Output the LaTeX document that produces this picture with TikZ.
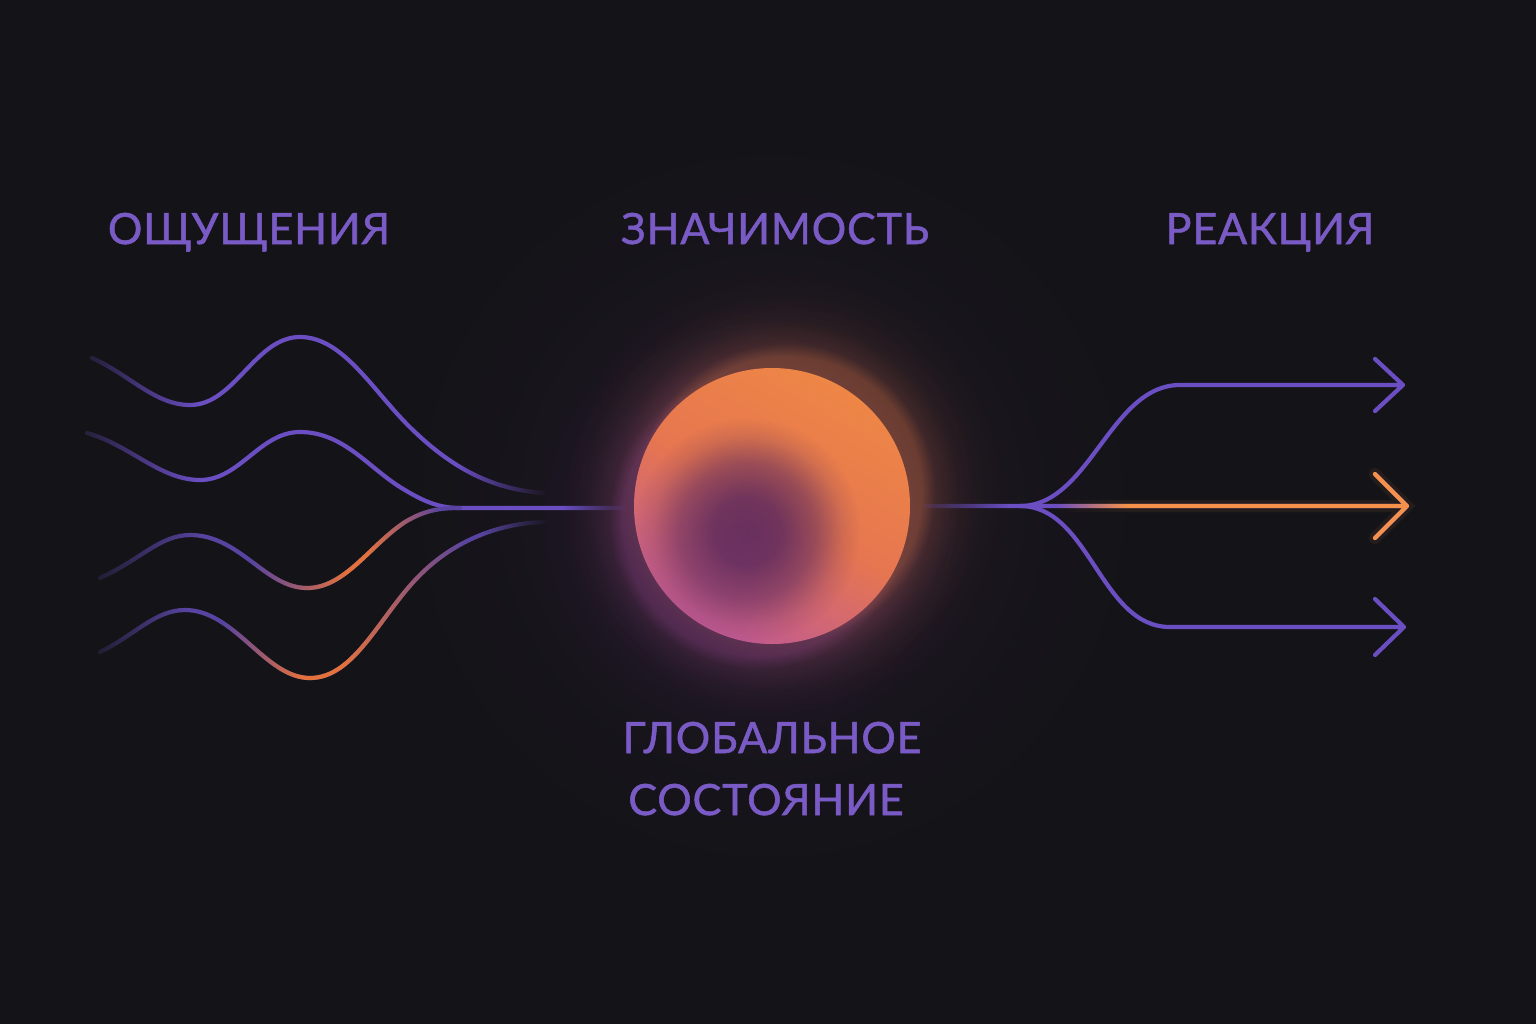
\documentclass[tikz,border=0pt]{standalone}
\usepackage{fontspec}
\usetikzlibrary{fadings}
\newfontfamily\labfont[LetterSpace=2, FakeBold=1.2]{Lato}
\definecolor{bgC}{HTML}{141418}
\definecolor{txtC}{HTML}{7A5BC6}
\definecolor{purC}{HTML}{6A4EC2}
\definecolor{purD}{HTML}{5844A0}
\definecolor{oraC}{HTML}{E2713C}
\definecolor{oraB}{HTML}{F5914A}
\definecolor{hazeP}{HTML}{3C2044}
\definecolor{glowO}{HTML}{E07A40}
\definecolor{glowP}{HTML}{8E3E9E}
\definecolor{sTop}{HTML}{EE8646}
\definecolor{sMid}{HTML}{E67650}
\definecolor{sBot}{HTML}{C05A92}
\definecolor{darkP}{HTML}{55255E}
\pgfdeclareradialshading{glowlum}{\pgfpointorigin}{color(0bp)=(white); color(15bp)=(white); color(16.5bp)=(black!58); color(19bp)=(black!82); color(22bp)=(black!95); color(25bp)=(black); color(50bp)=(black)}
\pgfdeclareradialshading{darklum}{\pgfpointorigin}{color(0bp)=(black!15); color(7.5bp)=(black!20); color(15bp)=(black!48); color(21bp)=(black!85); color(25bp)=(black); color(50bp)=(black)}
\pgfdeclareradialshading{hazelum}{\pgfpointorigin}{color(0bp)=(white); color(10bp)=(black!30); color(18bp)=(black!75); color(25bp)=(black); color(50bp)=(black)}
\begin{tikzfadingfrompicture}[name=glowF]
\fill[transparent!100] (-25bp,-25bp) rectangle (25bp,25bp);
\shade[shading=glowlum] (0,0) circle (25bp);
\end{tikzfadingfrompicture}
\begin{tikzfadingfrompicture}[name=hazeF]
\fill[transparent!100] (-25bp,-25bp) rectangle (25bp,25bp);
\shade[shading=hazelum] (0,0) circle (25bp);
\end{tikzfadingfrompicture}
\begin{tikzfadingfrompicture}[name=darkF]
\fill[transparent!100] (-25bp,-25bp) rectangle (25bp,25bp);
\shade[shading=darklum] (-4.5bp,-4.5bp) circle (20.5bp);
\end{tikzfadingfrompicture}
\newcommand\mkfade[7]{%
\begin{tikzfadingfrompicture}[name=#1]
 \fill[transparent!#6] (-30bp,-35bp) rectangle (#2bp,35bp);
 \shade[left color=transparent!#6, right color=transparent!0] (#2bp,-35bp) rectangle (#3bp,35bp);
 \fill[transparent!0] (#3bp,-35bp) rectangle (#4bp,35bp);
 \shade[left color=transparent!0, right color=transparent!#7] (#4bp,-35bp) rectangle (#5bp,35bp);
 \fill[transparent!#7] (#5bp,-35bp) rectangle (30bp,35bp);
\end{tikzfadingfrompicture}}
\mkfade{fCa}{-25}{-13}{15}{25}{80}{100}
\mkfade{fCb}{-25}{-14.5}{19}{25}{80}{100}
\mkfade{fCc}{-25}{-10.5}{24}{25}{80}{0}
\mkfade{fCco}{-4}{9}{12}{22}{100}{100}
\mkfade{fCd}{-25}{-15}{17.5}{25}{80}{100}
\mkfade{fCdo}{-11}{-2.5}{2.5}{16}{100}{100}
\mkfade{fRt}{-25}{-16}{24}{25}{90}{0}
\mkfade{fRm}{-20}{-11}{24}{25}{100}{0}
\tikzset{
  lab/.style={text=txtC, font=\labfont\fontsize{21.5}{26}\selectfont, inner sep=0pt, anchor=base},
  wave/.style={line width=2.1pt, line cap=round, line join=round},
}
\begin{document}
\begin{tikzpicture}[x=0.5pt, y=-0.5pt]
\fill[bgC] (0,0) rectangle (1536,1024);
\useasboundingbox (0,0) rectangle (1536,1024);
% haze and glow
\coordinate (cc) at (772,506);
\fill[hazeP, opacity=0.3, path fading=hazeF] (cc) circle (380);
\fill[glowP, opacity=0.4, path fading=glowF] (758,520) circle (225);
\fill[glowO, opacity=0.38, path fading=glowF] (786,492) circle (225);
% key points
\coordinate (a1) at (92,358);
\coordinate (a2) at (87,433);
\coordinate (a3) at (100,578);
\coordinate (a4) at (100,652);
\coordinate (mrg) at (460,508);
\coordinate (inend) at (625,508);
\coordinate (e1) at (545,493);
\coordinate (e4) at (545,522);
\coordinate (outst) at (925,506);
\coordinate (split) at (1020,506);
\coordinate (tipT) at (1403,385);
\coordinate (tipM) at (1407,506);
\coordinate (tipB) at (1404,627);
% left waves
\draw[wave, purC, path fading=fCa] (a1) .. controls (130,375) and (155,405) .. (190,405) .. controls (235,405) and (255,337) .. (300,337) .. controls (345,337) and (375,395) .. (415,432) .. controls (455,470) and (495,490) .. (e1);
\draw[wave, purC, path fading=fCb] (a2) .. controls (130,445) and (160,480) .. (200,480) .. controls (240,480) and (260,432) .. (300,432) .. controls (345,432) and (370,470) .. (405,490) .. controls (425,502) and (440,508) .. (mrg) -- (inend);
\draw[wave, purD, path fading=fCc] (a3) .. controls (140,560) and (160,535) .. (190,535) .. controls (240,535) and (265,588) .. (307,588) .. controls (345,588) and (370,545) .. (405,522) .. controls (425,510) and (440,508) .. (mrg);
\draw[wave, oraC, path fading=fCco] (a3) .. controls (140,560) and (160,535) .. (190,535) .. controls (240,535) and (265,588) .. (307,588) .. controls (345,588) and (370,545) .. (405,522) .. controls (425,510) and (440,508) .. (mrg);
\draw[wave, purD, path fading=fCd] (a4) .. controls (135,635) and (155,610) .. (185,610) .. controls (235,610) and (265,678) .. (310,678) .. controls (355,678) and (380,615) .. (420,575) .. controls (455,540) and (500,523) .. (e4);
\draw[wave, oraC, path fading=fCdo] (a4) .. controls (135,635) and (155,610) .. (185,610) .. controls (235,610) and (265,678) .. (310,678) .. controls (355,678) and (380,615) .. (420,575) .. controls (455,540) and (500,523) .. (e4);
% right arrows
\draw[wave, purC, path fading=fRt] (outst) -- (split) .. controls (1090,506) and (1110,385) .. (1180,385) -- (tipT) (1375,359) -- (tipT) -- (1375,411);
\draw[wave, purC] (split) .. controls (1090,506) and (1100,627) .. (1170,627) -- (tipB) (1375,599) -- (tipB) -- (1375,655);
\draw[wave, purC] (split) -- (tipM) (1375,474) -- (tipM) -- (1375,538);
\draw[line width=6pt, line cap=round, oraB, opacity=0.08, path fading=fRm] (split) -- (tipM) (1375,474) -- (tipM) -- (1375,538);
\draw[wave, oraB, path fading=fRm] (split) -- (tipM) (1375,474) -- (tipM) -- (1375,538);
% core sphere
\node[circle, minimum size=138pt, inner sep=0pt, top color=sTop, bottom color=sBot, middle color=sMid, shading angle=-30] (core) at (cc) {};
\fill[darkP, path fading=darkF] (core.center) circle (138);
% labels
\node[lab] (sens) at (249,244) {ОЩУЩЕНИЯ};
\node[lab] (sig) at (775,244) {ЗНАЧИМОСТЬ};
\node[lab] (resp) at (1270,244) {РЕАКЦИЯ};
\node[lab] (gs1) at (772,753) {ГЛОБАЛЬНОЕ};
\node[lab] (gs2) at (766,815) {СОСТОЯНИЕ};
\end{tikzpicture}
\end{document}
